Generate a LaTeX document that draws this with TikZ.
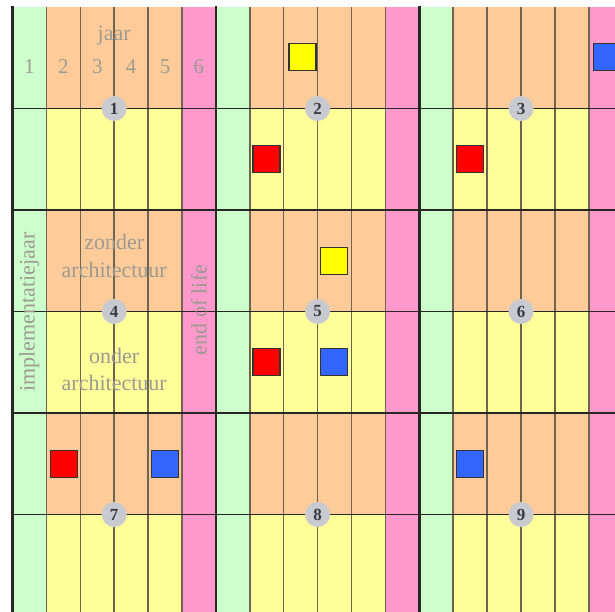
\documentclass[tikz,border=0pt]{standalone}
\usepackage{fontspec}
\setmainfont{Liberation Serif}
\definecolor{cgreen}{HTML}{CCFFCC}
\definecolor{cpeach}{HTML}{FFCC99}
\definecolor{cyel}{HTML}{FFFF99}
\definecolor{cpink}{HTML}{FF99CC}
\definecolor{cline}{HTML}{6E6450}
\definecolor{ctext}{HTML}{9C9A92}
\definecolor{ccirc}{HTML}{C9CACF}
\definecolor{cnum}{HTML}{3A3A40}
\definecolor{cred}{HTML}{FF0000}
\definecolor{cblue}{HTML}{3366FF}
\definecolor{cyellow}{HTML}{FFFF00}
\tikzset{
  thinline/.style={draw=cline, line width=1.5pt},
  thickline/.style={draw=black!85, line width=2.6pt},
  midline/.style={draw=black!85, line width=1.8pt},
  sq/.style={draw=black!80, line width=1.8pt, minimum size=27pt, inner sep=0pt},
  num/.style={circle, fill=ccirc, minimum size=25pt, inner sep=0pt, text=cnum,
              font=\bfseries\fontsize{17}{17}\selectfont},
  lbl/.style={text=ctext, inner sep=0pt, font=\fontsize{22}{22}\selectfont},
  dig/.style={text=ctext, inner sep=0pt, font=\fontsize{21}{21}\selectfont}
}
\begin{document}
\begin{tikzpicture}[x=1pt,y=-1pt]
\useasboundingbox (0,0) rectangle (615,611);
\clip (0,0) rectangle (615,611);
\def\xo{12.5}
\def\cw{33.9}
\def\bw{203.4}
% fills
\foreach \k in {0,1,2}{
  \pgfmathsetmacro{\bx}{\xo+\bw*\k}
  \fill[cgreen] (\bx,7) rectangle ({\bx+\cw},616);
  \fill[cpink] ({\bx+5*\cw},7) rectangle ({\bx+6*\cw},616);
  \foreach \j in {0,...,5}{
    \pgfmathsetmacro{\ya}{7+101.5*\j}
    \pgfmathtruncatemacro{\ev}{mod(\j,2)}
    \ifnum\ev=0
      \fill[cpeach] ({\bx+\cw},\ya) rectangle ({\bx+5*\cw},{\ya+101.5});
    \else
      \fill[cyel] ({\bx+\cw},\ya) rectangle ({\bx+5*\cw},{\ya+101.5});
    \fi
  }
}
% vertical lines
\foreach \i in {0,...,18}{
  \pgfmathsetmacro{\xx}{\xo+\cw*\i}
  \draw[thinline] (\xx,7) -- (\xx,616);
}
\foreach \i in {0,6,12,18}{
  \pgfmathsetmacro{\xx}{\xo+\cw*\i}
  \draw[thickline] (\xx,6) -- (\xx,616);
}
% horizontal lines
\foreach \yy in {108.5,311.5,514.5}{
  \draw[midline] (\xo,\yy) -- (620,\yy);
}
\foreach \yy in {210,413}{
  \draw[thickline] (\xo,\yy) -- (620,\yy);
}
% texts in block 1 and 4
\node[lbl] (jaar) at (114.2,36) {jaar};
\foreach \n in {1,...,6}{
  \pgfmathsetmacro{\xx}{\xo+\cw*(\n-0.5)}
  \node[dig] (d\n) at (\xx,67) {\n};
}
\node[lbl] (zonder) at (114.2,242) {zonder};
\node[lbl] (arch1) at (114.2,270) {architectuur};
\node[lbl] (onder) at (114.2,356) {onder};
\node[lbl] (arch2) at (114.2,383) {architectuur};
\node[lbl, rotate=90] (impl) at (29.4,312) {implementatiejaar};
\node[lbl, rotate=90] (eol) at (199,310) {end of life};
% squares
\node[sq, fill=cyellow] (s1) at (302.5,57) {};
\node[sq, fill=cred]    (s2) at (266.5,159) {};
\node[sq, fill=cred]    (s3) at (470,159) {};
\node[sq, fill=cblue]   (s4) at (607,57) {};
\node[sq, fill=cyellow] (s5) at (334,261) {};
\node[sq, fill=cred]    (s6) at (266.5,362) {};
\node[sq, fill=cblue]   (s7) at (334,362) {};
\node[sq, fill=cred]    (s8) at (64,464) {};
\node[sq, fill=cblue]   (s9) at (165,464) {};
\node[sq, fill=cblue]   (s10) at (470,464) {};
% numbered circles
\foreach \k in {0,1,2}{
  \foreach \r in {0,1,2}{
    \pgfmathtruncatemacro{\nn}{3*\r+\k+1}
    \pgfmathsetmacro{\cx}{\xo+\bw*\k+3*\cw}
    \pgfmathsetmacro{\cy}{108.5+203*\r}
    \node[num] (c\nn) at (\cx,\cy) {\nn};
  }
}
\end{tikzpicture}
\end{document}
